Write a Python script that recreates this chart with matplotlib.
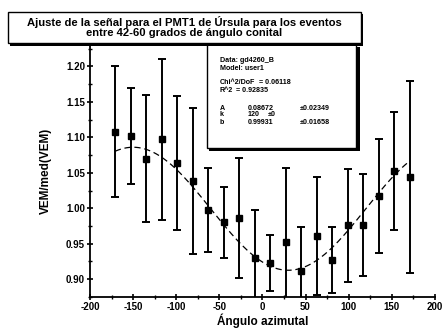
import numpy as np
import matplotlib.pyplot as plt
from matplotlib.patches import Rectangle

plt.rcParams['font.family'] = ['Liberation Sans', 'DejaVu Sans']

# Datos: angulo azimutal, VEM/med(VEM) y su error
angulo = [-171, -153, -135, -117, -99, -81, -63, -45, -27, -9,
          9, 27, 45, 63, 81, 99, 117, 135, 153, 171]
vem = [1.108, 1.102, 1.070, 1.097, 1.064, 1.038, 0.998, 0.980, 0.986, 0.930,
       0.923, 0.953, 0.911, 0.961, 0.927, 0.976, 0.976, 1.017, 1.053, 1.044]
err = [0.092, 0.068, 0.089, 0.113, 0.094, 0.103, 0.059, 0.050, 0.085, 0.068,
       0.039, 0.104, 0.062, 0.083, 0.047, 0.080, 0.072, 0.080, 0.083, 0.135]

# Parametros del ajuste (modelo user1): y = b + A*sin(x - k)
A = 0.08672
k = 120
b = 0.99931

fig = plt.figure(figsize=(4.45, 3.34), dpi=100)
ax = fig.add_axes([0.2022, 0.111, 0.775, 0.755])

xs = np.linspace(min(angulo), max(angulo), 300)
ys = b + A * np.sin(np.radians(xs - k))
ax.plot(xs, ys, color='black', lw=0.9, ls=(0, (5, 3)))

ax.errorbar(angulo, vem, yerr=err, fmt='s', color='black', ms=5,
            elinewidth=1.4, capsize=3, capthick=1.4)

ax.set_xlim(-200, 200)
ax.set_ylim(0.876, 1.2305)
ax.set_xticks(np.arange(-200, 201, 50))
ax.set_xticks(np.arange(-200, 201, 25), minor=True)
ax.set_yticks(np.arange(0.90, 1.201, 0.05))
ax.set_yticks(np.arange(0.875, 1.23, 0.025), minor=True)
ax.set_yticklabels(['%.2f' % v for v in np.arange(0.90, 1.201, 0.05)])
ax.set_xticklabels(['%d' % v for v in np.arange(-200, 201, 50)])
ax.tick_params(which='major', direction='inout', length=5, width=1.2,
               labelsize=7, pad=1)
ax.tick_params(which='minor', direction='inout', length=3, width=1.0)
for lbl in ax.get_xticklabels() + ax.get_yticklabels():
    lbl.set_fontweight('bold')
for s in ['top', 'right']:
    ax.spines[s].set_visible(False)
for s in ['left', 'bottom']:
    ax.spines[s].set_linewidth(1.3)

ax.set_xlabel('Ángulo azimutal', fontsize=8.5, fontweight='bold', labelpad=1)
ax.set_ylabel('VEM/med(VEM)', fontsize=8.5, fontweight='bold', labelpad=10)

W, H = 445.0, 334.0

def fx(px):
    return px / W

def fy(py):
    return 1 - py / H

# Caja con los resultados del ajuste
fig.patches.append(Rectangle((fx(209), fy(151)), fx(151), (104) / H,
                             transform=fig.transFigure, facecolor='black',
                             edgecolor='none', zorder=4))
fig.patches.append(Rectangle((fx(207), fy(148)), fx(149), (104) / H,
                             transform=fig.transFigure, facecolor='white',
                             edgecolor='black', lw=1.0, zorder=5))
info = [
    (220, 60, 'Data: gd4260_B'),
    (220, 68, 'Model: user1'),
    (220, 83, 'Chi^2/DoF'),
    (259, 83, '= 0.06118'),
    (220, 91, 'R^2'),
    (236, 91, '= 0.92835'),
    (220, 108, 'A'),
    (248, 108, '%.5f' % A),
    (300, 108, '±0.02349'),
    (220, 115, 'k'),
    (248, 115, '%d' % k),
    (268, 115, '±0'),
    (220, 122, 'b'),
    (248, 122, '%.5f' % b),
    (300, 122, '±0.01658'),
]
for px, py, t in info:
    fig.text(fx(px), fy(py), t, fontsize=5.1, fontweight='bold',
             family=['Liberation Sans Narrow', 'Liberation Sans'],
             va='center', ha='left', zorder=6)

# Titulo en recuadro
fig.patches.append(Rectangle((fx(10), fy(46)), fx(353), 32 / H,
                             transform=fig.transFigure, facecolor='black',
                             edgecolor='none', zorder=7))
fig.patches.append(Rectangle((fx(8), fy(43)), fx(353), 31 / H,
                             transform=fig.transFigure, facecolor='white',
                             edgecolor='black', lw=1.0, zorder=8))
fig.text(fx(184), fy(22), 'Ajuste de la señal para el PMT1 de Úrsula para los eventos',
         fontsize=8.1, fontweight='bold', ha='center', va='center', zorder=9)
fig.text(fx(184), fy(33), 'entre 42-60 grados de ángulo conital',
         fontsize=8.1, fontweight='bold', ha='center', va='center', zorder=9)

fig.savefig('out.png', dpi=100)
